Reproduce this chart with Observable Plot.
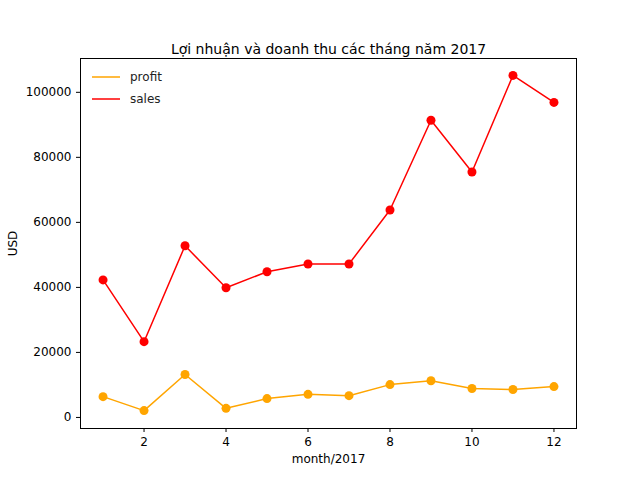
<!DOCTYPE html>
<html><head><meta charset="utf-8">
<script src="https://cdn.jsdelivr.net/npm/d3@7"></script>
<script src="https://cdn.jsdelivr.net/npm/@observablehq/plot@0.6"></script>
<style>
body{margin:0;background:#fff;font-family:"DejaVu Sans",sans-serif}
#wrap{position:relative;width:640px;height:480px}
#legend{position:absolute;left:92px;top:66px;font-size:12px;color:#222}
#legend div{height:22px;display:flex;align-items:center}
#legend svg{margin-right:10px}
</style></head><body>
<div id="wrap"><div id="legend"></div></div>
<script>
const months = [1,2,3,4,5,6,7,8,9,10,11,12];
const sales = [42300,23300,52800,39900,44800,47200,47200,63800,91400,75500,105200,96900];
const profit = [6400,2100,13200,2800,5800,7100,6700,10100,11300,8900,8600,9500];
const series = [{name:"profit", values:profit, color:"orange"},{name:"sales", values:sales, color:"red"}];
const rows = series.flatMap(s => months.map((m,i) => ({month:m, value:s.values[i], name:s.name, color:s.color})));

const chart = Plot.plot({
  width:640, height:480,
  marginLeft:80, marginRight:64, marginTop:58, marginBottom:52,
  style:{fontFamily:"DejaVu Sans", fontSize:"12px", color:"#000"},
  x:{domain:[0.45,12.55], ticks:[2,4,6,8,10,12], tickSize:4, label:"month/2017", labelAnchor:"center", labelArrow:"none", labelOffset:34},
  y:{domain:[-3400,110400], ticks:[0,20000,40000,60000,80000,100000], tickFormat:d=>String(d), tickSize:4, label:"USD", labelAnchor:"center", labelArrow:"none", labelOffset:72},
  marks:[
    Plot.frame({stroke:"black"}),
    Plot.line(rows,{x:"month",y:"value",z:"name",stroke:"color",strokeWidth:1.5}),
    Plot.dot(rows,{x:"month",y:"value",fill:"color",r:4.5}),
    Plot.text(["Lợi nhuận và doanh thu các tháng năm 2017"],{frameAnchor:"top",dy:-14,fontSize:14,text:d=>d})
  ]
});
document.getElementById("wrap").prepend(chart);
document.getElementById("legend").innerHTML = series.map(s =>
  `<div><svg width="28" height="4"><line x1="0" x2="28" y1="2" y2="2" stroke="${s.color}" stroke-width="1.5"/></svg>${s.name}</div>`).join("");
</script>
</body></html>
